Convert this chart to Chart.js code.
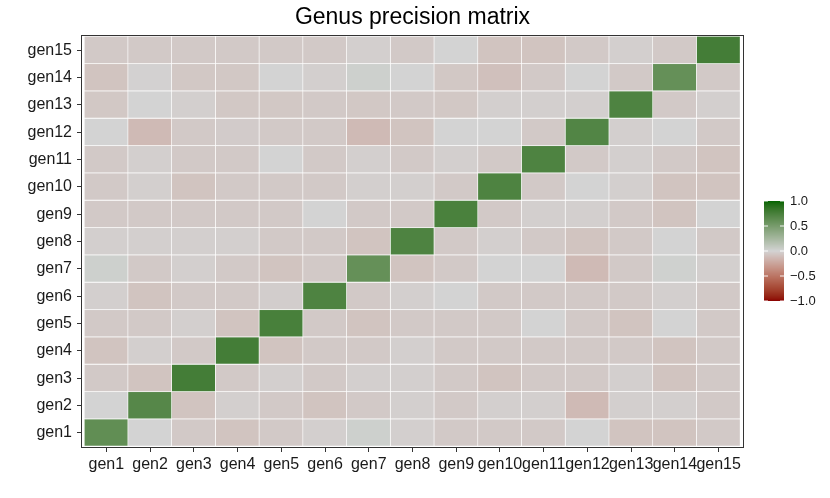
<!DOCTYPE html>
<html>
<head>
<meta charset="utf-8">
<script src="https://cdn.jsdelivr.net/npm/chart.js@4.4.1/dist/chart.umd.min.js"></script>
<style>
  html, body { margin: 0; padding: 0; background: #fff; }
  #wrap { width: 830px; height: 498px; }
</style>
</head>
<body>
<div id="wrap"><canvas id="heat"></canvas></div>
<script>
// genus names, used for both axes
const genera = ['gen1','gen2','gen3','gen4','gen5','gen6','gen7','gen8','gen9','gen10','gen11','gen12','gen13','gen14','gen15'];

// partial correlations, row = y genus (gen1 first), column = x genus
const precision = [
  [ 0.62,  0.00, -0.05, -0.08, -0.05, -0.02,  0.03, -0.02, -0.05, -0.05, -0.05,  0.00, -0.08, -0.08, -0.05],
  [ 0.00,  0.68, -0.08, -0.02, -0.05, -0.08, -0.05, -0.02, -0.05, -0.02, -0.02, -0.13, -0.02, -0.02, -0.05],
  [-0.05, -0.08,  0.77, -0.05, -0.02, -0.05, -0.02, -0.02, -0.05, -0.08, -0.05, -0.05, -0.02, -0.08, -0.05],
  [-0.08, -0.02, -0.05,  0.77, -0.08, -0.05, -0.05, -0.02, -0.05, -0.05, -0.05, -0.05, -0.05, -0.08, -0.05],
  [-0.05, -0.05, -0.02, -0.08,  0.75, -0.05, -0.08, -0.05, -0.05, -0.05,  0.00, -0.05, -0.08,  0.00, -0.05],
  [-0.02, -0.08, -0.05, -0.05, -0.03,  0.72, -0.05, -0.02,  0.00, -0.05, -0.05, -0.05, -0.05, -0.02, -0.05],
  [ 0.03, -0.05, -0.02, -0.05, -0.08, -0.05,  0.60, -0.08, -0.05,  0.00,  0.00, -0.13, -0.05,  0.02, -0.02],
  [-0.02, -0.02, -0.02, -0.02, -0.05, -0.05, -0.08,  0.72, -0.05, -0.02, -0.05, -0.08, -0.05,  0.00, -0.05],
  [-0.05, -0.05, -0.05, -0.05, -0.05,  0.00, -0.05, -0.05,  0.74, -0.05, -0.02, -0.02, -0.05, -0.08,  0.00],
  [-0.05, -0.02, -0.08, -0.05, -0.05, -0.05, -0.02, -0.02, -0.05,  0.72, -0.05,  0.00, -0.02, -0.08, -0.08],
  [-0.05, -0.02, -0.05, -0.05,  0.00, -0.05, -0.02, -0.05, -0.02, -0.05,  0.72, -0.05, -0.02, -0.05, -0.08],
  [ 0.00, -0.13, -0.05, -0.04, -0.05, -0.05, -0.13, -0.08,  0.00,  0.00, -0.05,  0.70, -0.02,  0.00, -0.05],
  [-0.06,  0.00, -0.02, -0.06, -0.06, -0.05, -0.06, -0.05, -0.06, -0.02, -0.02, -0.02,  0.72, -0.05, -0.02],
  [-0.08, -0.01, -0.06, -0.06,  0.00, -0.02,  0.03,  0.00, -0.06, -0.10, -0.05,  0.00, -0.05,  0.60, -0.05],
  [-0.05, -0.05, -0.05, -0.05, -0.05, -0.05, -0.02, -0.05,  0.00, -0.08, -0.08, -0.05, -0.02, -0.05,  0.77]
];

// colour bar ticks
const legendValues = [1.0, 0.5, 0.0, -0.5, -1.0];
const legendLabels = ['1.0', '0.5', '0.0', '\u22120.5', '\u22121.0'];

const chartTitle = 'Genus precision matrix';

// sRGB <-> CIE Lab, so the diverging scale blends like ggplot's gradient2
function toLab(rgb) {
  const lin = rgb.map(c => { c /= 255; return c <= 0.04045 ? c / 12.92 : Math.pow((c + 0.055) / 1.055, 2.4); });
  const X = (0.4124 * lin[0] + 0.3576 * lin[1] + 0.1805 * lin[2]) / 0.95047;
  const Y = 0.2126 * lin[0] + 0.7152 * lin[1] + 0.0722 * lin[2];
  const Z = (0.0193 * lin[0] + 0.1192 * lin[1] + 0.9505 * lin[2]) / 1.08883;
  const f = t => t > 0.008856 ? Math.cbrt(t) : 7.787 * t + 16 / 116;
  const fx = f(X), fy = f(Y), fz = f(Z);
  return [116 * fy - 16, 500 * (fx - fy), 200 * (fy - fz)];
}
function fromLab(lab) {
  const fy = (lab[0] + 16) / 116, fx = fy + lab[1] / 500, fz = fy - lab[2] / 200;
  const inv = t => t * t * t > 0.008856 ? t * t * t : (t - 16 / 116) / 7.787;
  const X = 0.95047 * inv(fx), Y = inv(fy), Z = 1.08883 * inv(fz);
  const lin = [
    3.2406 * X - 1.5372 * Y - 0.4986 * Z,
    -0.9689 * X + 1.8758 * Y + 0.0415 * Z,
    0.0557 * X - 0.2040 * Y + 1.0570 * Z
  ];
  return lin.map(c => {
    c = c <= 0.0031308 ? 12.92 * c : 1.055 * Math.pow(c, 1 / 2.4) - 0.055;
    return Math.max(0, Math.min(255, Math.round(c * 255)));
  });
}

const midLab = toLab([211, 211, 211]);   // lightgrey
const highLab = toLab([0, 100, 0]);      // darkgreen
const lowLab = toLab([139, 0, 0]);       // darkred

function fillFor(v) {
  const end = v >= 0 ? highLab : lowLab;
  const t = Math.min(1, Math.abs(v));
  const c = fromLab(midLab.map((m, k) => m + t * (end[k] - m)));
  return `rgb(${c[0]},${c[1]},${c[2]})`;
}

const cells = [];
precision.forEach((row, i) => {
  row.forEach((v, j) => {
    cells.push({ x: j + 1, y: [i + 0.5, i + 1.5], v: v });
  });
});

// title, panel border and colour bar legend
const extras = {
  id: 'extras',
  afterDraw(chart) {
    const ctx = chart.ctx;
    const a = chart.chartArea;
    ctx.save();
    ctx.strokeStyle = '#333';
    ctx.lineWidth = 1;
    ctx.strokeRect(Math.round(a.left) + 0.5, Math.round(a.top) + 0.5,
                   Math.round(a.right - a.left) - 1, Math.round(a.bottom - a.top) - 1);

    ctx.fillStyle = '#000';
    ctx.font = '23px "Liberation Sans", Arial, sans-serif';
    ctx.textAlign = 'center';
    ctx.textBaseline = 'alphabetic';
    ctx.fillText(chartTitle, (a.left + a.right) / 2, 24);

    const bx = 764, bw = 20, top = 201, bot = 301;
    for (let y = top; y < bot; y++) {
      const v = 1 - 2 * (y - top + 0.5) / (bot - top);
      ctx.fillStyle = fillFor(v);
      ctx.fillRect(bx, y, bw, 1);
    }
    ctx.font = '13px "Liberation Sans", Arial, sans-serif';
    ctx.fillStyle = '#1a1a1a';
    ctx.textBaseline = 'middle';
    ctx.textAlign = 'left';
    legendValues.forEach((v, k) => {
      const y = top + (1 - v) / 2 * (bot - top);
      ctx.strokeStyle = 'rgba(255,255,255,0.9)';
      ctx.beginPath();
      ctx.moveTo(bx, y); ctx.lineTo(bx + 4, y);
      ctx.moveTo(bx + bw - 4, y); ctx.lineTo(bx + bw, y);
      ctx.stroke();
      ctx.fillText(legendLabels[k], bx + bw + 6, y);
    });
    ctx.restore();
  }
};

const tickFont = { family: '"Liberation Sans", Arial, sans-serif', size: 16 };

new Chart(document.getElementById('heat'), {
  type: 'bar',
  data: {
    datasets: [{
      data: cells,
      backgroundColor: c => fillFor(c.raw ? c.raw.v : 0),
      borderColor: 'rgba(255,255,255,0.6)',
      borderWidth: { right: 1, bottom: 1 },
      borderSkipped: false,
      barPercentage: 1,
      categoryPercentage: 1
    }]
  },
  options: {
    responsive: true,
    maintainAspectRatio: false,
    animation: false,
    layout: { padding: { left: 0, right: 86, top: 35, bottom: 0 } },
    plugins: {
      legend: { display: false },
      tooltip: { enabled: false },
      title: { display: false }
    },
    scales: {
      x: {
        type: 'linear',
        offset: false,
        min: 0.42,
        max: 15.58,
        afterBuildTicks: s => { s.ticks = genera.map((g, i) => ({ value: i + 1 })); },
        afterFit: s => { s.height = 50; },
        ticks: {
          autoSkip: false,
          maxRotation: 0,
          padding: 3,
          color: '#1a1a1a',
          font: tickFont,
          callback: v => genera[Math.round(v) - 1]
        },
        grid: { offset: false, drawOnChartArea: false, drawTicks: true, tickLength: 4, color: '#333' },
        border: { display: false }
      },
      y: {
        type: 'linear',
        min: 0.445,
        max: 15.555,
        afterBuildTicks: s => { s.ticks = genera.map((g, i) => ({ value: i + 1 })); },
        afterFit: s => { s.width = 81; },
        ticks: {
          autoSkip: false,
          padding: 5,
          color: '#1a1a1a',
          font: tickFont,
          callback: v => genera[Math.round(v) - 1]
        },
        grid: { drawOnChartArea: false, drawTicks: true, tickLength: 4, color: '#333' },
        border: { display: false }
      }
    }
  },
  plugins: [extras]
});
</script>
</body>
</html>
